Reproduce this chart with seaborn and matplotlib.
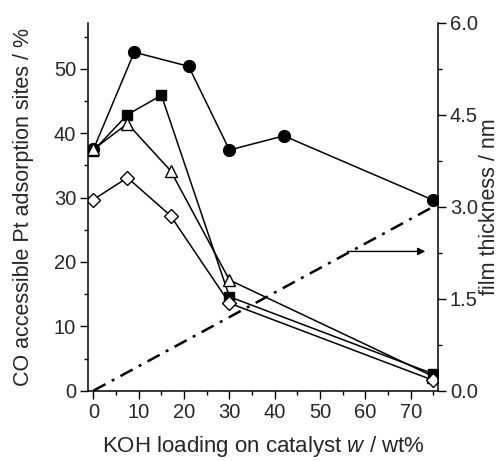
import matplotlib
matplotlib.use("Agg")
import matplotlib.pyplot as plt
from matplotlib.ticker import MultipleLocator, FormatStrFormatter
import seaborn as sns
import pandas as pd

# KOH loading (wt%) and CO-accessible Pt adsorption sites (%) for each catalyst series
circle_x = [0, 9, 21, 30, 42, 75]
circle_y = [37.5, 52.6, 50.4, 37.4, 39.6, 29.6]

square_x = [0, 7.5, 15, 30, 75]
square_y = [37.3, 42.9, 45.9, 14.6, 2.6]

triangle_x = [0, 7.5, 17, 30, 75]
triangle_y = [37.5, 41.5, 34.2, 17.2, 2.2]

diamond_x = [0, 7.5, 17, 30, 75]
diamond_y = [29.7, 33.1, 27.2, 13.6, 1.6]

# KOH film thickness (nm)
film_x = [0, 75]
film_y = [0.0, 3.0]

sns.set_style("ticks")
plt.rcParams["font.family"] = ["Liberation Sans", "DejaVu Sans"]
plt.rcParams["mathtext.fontset"] = "custom"
plt.rcParams["mathtext.rm"] = "Liberation Sans"
plt.rcParams["mathtext.it"] = "Liberation Sans:italic"

fig = plt.figure(figsize=(5.02, 4.61), dpi=100)
ax = fig.add_axes([0.1753, 0.1525, 0.6972, 0.7985])
ax2 = ax.twinx()

common = dict(color="k", lw=1.1, markeredgecolor="k", markeredgewidth=1.0,
              sort=False, legend=False)

sns.lineplot(data=pd.DataFrame({"x": circle_x, "y": circle_y}), x="x", y="y", ax=ax,
             marker="o", markersize=8.5, markerfacecolor="k", **common)
sns.lineplot(data=pd.DataFrame({"x": square_x, "y": square_y}), x="x", y="y", ax=ax,
             marker="s", markersize=7.5, markerfacecolor="k", **common)
sns.lineplot(data=pd.DataFrame({"x": triangle_x, "y": triangle_y}), x="x", y="y", ax=ax,
             marker="^", markersize=9, markerfacecolor="w", **common)
sns.lineplot(data=pd.DataFrame({"x": diamond_x, "y": diamond_y}), x="x", y="y", ax=ax,
             marker="D", markersize=7, markerfacecolor="w", **common)

sns.lineplot(data=pd.DataFrame({"x": film_x, "y": film_y}), x="x", y="y", ax=ax2,
             color="k", lw=1.8, linestyle=(0, (5.5, 2.8, 1.2, 2.8)), legend=False)
ax2.annotate("", xy=(73.2, 2.27), xytext=(56.0, 2.27),
             arrowprops=dict(arrowstyle="-|>", color="k", lw=1.0,
                             mutation_scale=11, shrinkA=0, shrinkB=0))

ax.set_xlim(-1.2, 76)
ax.set_ylim(0, 57.2)
ax2.set_ylim(0, 6.0)

ax.xaxis.set_major_locator(MultipleLocator(10))
ax.xaxis.set_minor_locator(MultipleLocator(5))
ax.yaxis.set_major_locator(MultipleLocator(10))
ax.yaxis.set_minor_locator(MultipleLocator(5))
ax2.yaxis.set_major_locator(MultipleLocator(1.5))
ax2.yaxis.set_minor_locator(MultipleLocator(0.75))
ax2.yaxis.set_major_formatter(FormatStrFormatter("%.1f"))

for a in (ax, ax2):
    a.spines["top"].set_visible(False)
    for s in a.spines.values():
        s.set_linewidth(1.1)
        s.set_color("k")
    a.tick_params(which="major", length=6, width=1.0, color="k",
                  labelsize=14.5, pad=2.5, direction="out")
    a.tick_params(which="minor", length=3, width=1.0, color="k", direction="out")
ax.spines["right"].set_visible(False)
ax2.spines["left"].set_visible(False)
ax2.spines["bottom"].set_visible(False)

ax.set_xlabel("KOH loading on catalyst $\\it{w}$ / wt%", fontsize=16)
ax.set_ylabel("CO accessible Pt adsorption sites / %", fontsize=15.5)
ax2.set_ylabel("film thickness / nm", fontsize=15.5)
ax.xaxis.set_label_coords(0.5, -0.118)
ax.yaxis.set_label_coords(-0.154, 0.5)
ax2.yaxis.set_label_coords(1.117, 0.5)

fig.savefig("out.png", dpi=100)
